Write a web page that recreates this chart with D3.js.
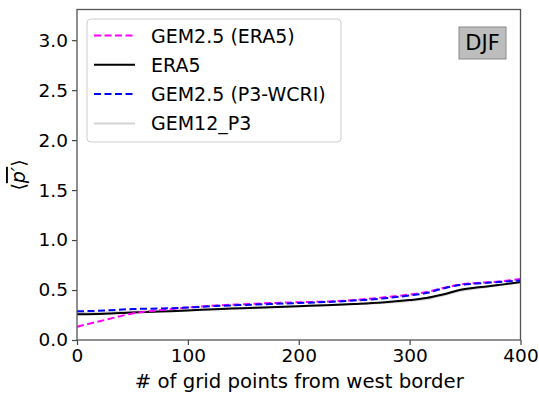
<!DOCTYPE html>
<html>
<head>
<meta charset="utf-8">
<script src="https://cdn.jsdelivr.net/npm/d3@7"></script>
<style>
  body { margin: 0; background: #fff; }
  text { font-family: "DejaVu Sans", sans-serif; fill: #000; }
</style>
</head>
<body>
<div id="chart"></div>
<script>
// grid points from west border
var gridPts = [0, 25, 50, 75, 100, 125, 150, 175, 200, 225, 250, 275, 300, 315, 330, 345, 360, 380, 400];

var gem25Era5 = [0.133, 0.20, 0.265, 0.30, 0.325, 0.345, 0.358, 0.37, 0.378, 0.385, 0.40, 0.425, 0.455, 0.48, 0.52, 0.555, 0.57, 0.585, 0.61];
var era5      = [0.257, 0.262, 0.275, 0.285, 0.295, 0.308, 0.318, 0.328, 0.338, 0.348, 0.36, 0.375, 0.40, 0.42, 0.455, 0.50, 0.525, 0.55, 0.58];
var gem25P3   = [0.287, 0.295, 0.31, 0.315, 0.325, 0.34, 0.35, 0.36, 0.37, 0.38, 0.395, 0.415, 0.445, 0.47, 0.515, 0.55, 0.565, 0.58, 0.595];
var gem12P3   = [0.27, 0.275, 0.285, 0.29, 0.30, 0.31, 0.32, 0.33, 0.34, 0.35, 0.36, 0.37, 0.39, 0.41, 0.445, 0.49, 0.515, 0.545, 0.575];

var xTicks = [0, 100, 200, 300, 400];
var yTicks = [0, 0.5, 1.0, 1.5, 2.0, 2.5, 3.0];

var series = [
  {name: "GEM2.5 (ERA5)", values: gem25Era5, color: "#ff00ff", dash: "7,3.5", width: 2},
  {name: "ERA5", values: era5, color: "#000000", dash: null, width: 2},
  {name: "GEM2.5 (P3-WCRI)", values: gem25P3, color: "#0000ff", dash: "7,3.5", width: 2},
  {name: "GEM12_P3", values: gem12P3, color: "#d3d3d3", dash: null, width: 2}
];

var W = 539, H = 397;
var margin = {top: 9.5, right: 18.5, bottom: 57, left: 77};
var w = W - margin.left - margin.right;
var h = H - margin.top - margin.bottom;

var svg = d3.select("#chart").append("svg")
  .attr("width", W).attr("height", H);

var g = svg.append("g")
  .attr("transform", "translate(" + margin.left + "," + margin.top + ")");

var x = d3.scaleLinear().domain([0, 400]).range([0, w]);
var y = d3.scaleLinear().domain([0, 3.307]).range([h, 0]);

// axes
var xAxis = d3.axisBottom(x).tickValues(xTicks).tickFormat(d3.format("d")).tickSize(5).tickPadding(4);
var yAxis = d3.axisLeft(y).tickValues(yTicks).tickFormat(d3.format(".1f")).tickSize(5).tickPadding(4);

g.append("g")
  .attr("transform", "translate(0," + h + ")")
  .call(xAxis)
  .call(function(s) {
    s.select(".domain").remove();
    s.selectAll(".tick line").attr("stroke", "#444").attr("stroke-width", 1.2);
    s.selectAll(".tick text").style("font-size", "18.5px").attr("font-family", "DejaVu Sans");
  });

g.append("g")
  .call(yAxis)
  .call(function(s) {
    s.select(".domain").remove();
    s.selectAll(".tick line").attr("stroke", "#444").attr("stroke-width", 1.2);
    s.selectAll(".tick text").style("font-size", "18.5px").attr("font-family", "DejaVu Sans");
  });

// lines
var line = d3.line()
  .x(function(d, i) { return x(gridPts[i]); })
  .y(function(d) { return y(d); })
  .curve(d3.curveMonotoneX);

var drawOrder = [3, 1, 0, 2];
drawOrder.forEach(function(k) {
  var s = series[k];
  g.append("path")
    .datum(s.values)
    .attr("fill", "none")
    .attr("stroke", s.color)
    .attr("stroke-width", s.width)
    .attr("stroke-dasharray", s.dash)
    .attr("d", line);
});

// frame
g.append("rect")
  .attr("x", 0).attr("y", 0).attr("width", w).attr("height", h)
  .attr("fill", "none").attr("stroke", "#555").attr("stroke-width", 1.3);

// axis labels
svg.append("text")
  .attr("x", margin.left + w / 2 + 0.5)
  .attr("y", 387.5)
  .attr("text-anchor", "middle")
  .style("font-size", "19.7px")
  .text("# of grid points from west border");

svg.append("text")
  .attr("transform", "translate(25,175) rotate(-90)")
  .attr("text-anchor", "middle")
  .style("font-size", "19px")
  .html("⟨<tspan font-style='italic' style='text-decoration: overline'>p′</tspan>⟩");

// legend
var legend = svg.append("g").attr("transform", "translate(87,19)");
legend.append("rect")
  .attr("width", 254).attr("height", 123).attr("rx", 4)
  .attr("fill", "#fff").attr("fill-opacity", 0.8)
  .attr("stroke", "#ccc").attr("stroke-width", 1);

series.forEach(function(s, i) {
  var ly = 16.5 + i * 29.3;
  legend.append("line")
    .attr("x1", 7).attr("x2", 48).attr("y1", ly).attr("y2", ly)
    .attr("stroke", s.color).attr("stroke-width", 2)
    .attr("stroke-dasharray", s.dash);
  legend.append("text")
    .attr("x", 64).attr("y", ly + 7)
    .style("font-size", "19px")
    .text(s.name);
});

// season tag
var tag = svg.append("g").attr("transform", "translate(459,27)");
tag.append("rect")
  .attr("width", 47).attr("height", 32)
  .attr("fill", "#bdbdbd").attr("stroke", "#888").attr("stroke-width", 1);
tag.append("text")
  .attr("x", 23.5).attr("y", 23)
  .attr("text-anchor", "middle")
  .style("font-size", "21px")
  .text("DJF");
</script>
</body>
</html>
